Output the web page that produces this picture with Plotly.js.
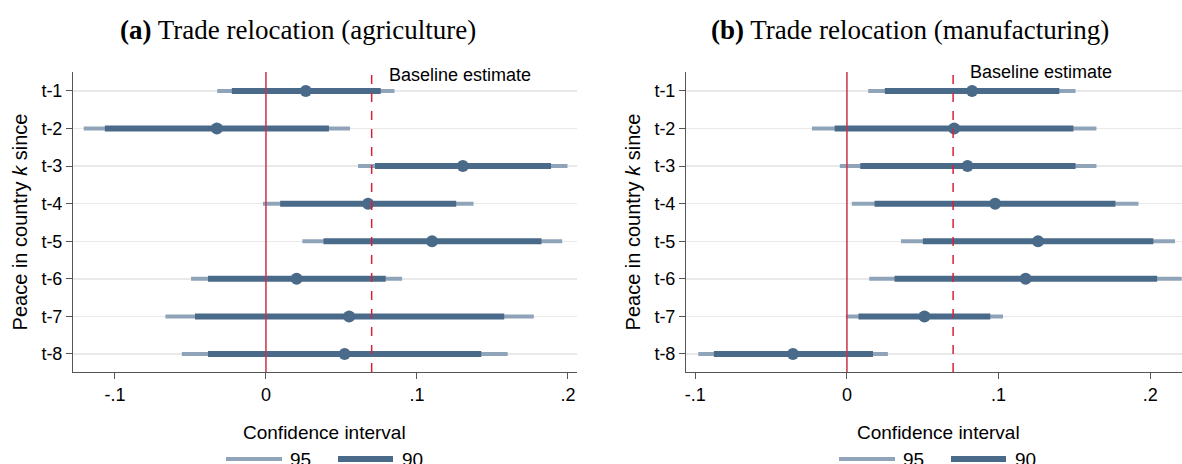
<!DOCTYPE html>
<html><head><meta charset="utf-8">
<script src="https://cdn.plot.ly/plotly-3.0.1.min.js"></script>
<style>html,body{margin:0;padding:0;background:#fff}#chart{width:1182px;height:464px}</style>
</head><body><div id="chart"></div>
<script>
// ---- data ----
const categories = ['t-1','t-2','t-3','t-4','t-5','t-6','t-7','t-8'];
const xTickVals = [-0.1, 0, 0.1, 0.2];
const xTickText = ['-.1', '0', '.1', '.2'];
const baseline = 0.07;
// (a) agriculture
const agEst  = [0.0264, -0.0325, 0.1304, 0.0676, 0.1100, 0.0203, 0.0551, 0.0521];
const agLo90 = [-0.0226, -0.1067, 0.0722, 0.0094, 0.0381, -0.0384, -0.0470, -0.0384];
const agHi90 = [0.0760, 0.0417, 0.1888, 0.1260, 0.1825, 0.0793, 0.1578, 0.1426];
const agLo95 = [-0.0323, -0.1207, 0.0610, -0.0020, 0.0241, -0.0496, -0.0666, -0.0557];
const agHi95 = [0.0851, 0.0557, 0.1997, 0.1375, 0.1962, 0.0902, 0.1774, 0.1601];
// (b) manufacturing
const mfEst  = [0.0825, 0.0707, 0.0795, 0.0977, 0.1260, 0.1178, 0.0511, -0.0356];
const mfLo90 = [0.0250, -0.0081, 0.0088, 0.0182, 0.0501, 0.0314, 0.0076, -0.0877];
const mfHi90 = [0.1400, 0.1493, 0.1507, 0.1770, 0.2020, 0.2045, 0.0945, 0.0172];
const mfLo95 = [0.0140, -0.0231, -0.0047, 0.0032, 0.0356, 0.0147, -0.0007, -0.0980];
const mfHi95 = [0.1507, 0.1645, 0.1645, 0.1922, 0.2163, 0.2207, 0.1029, 0.0270];

const C95 = '#8fa4b9', C90 = '#4a6a89', CRED = '#c8324a', CDASH = '#d8203a';
const W = 1182, H = 464;

function segs(lo, hi){
  const x=[], y=[];
  lo.forEach((v,i)=>{ x.push(v, hi[i], null); y.push(categories[i], categories[i], null); });
  return {x, y};
}
function panel(est, lo90, hi90, lo95, hi95, xa, ya){
  const s95 = segs(lo95, hi95), s90 = segs(lo90, hi90);
  return [
    {type:'scatter', mode:'lines', x:s95.x, y:s95.y, xaxis:xa, yaxis:ya, line:{color:C95, width:4}, hoverinfo:'skip', showlegend:false, connectgaps:false},
    {type:'scatter', mode:'lines', x:s90.x, y:s90.y, xaxis:xa, yaxis:ya, line:{color:C90, width:6}, hoverinfo:'skip', showlegend:false, connectgaps:false},
    {type:'scatter', mode:'markers', x:est, y:categories, xaxis:xa, yaxis:ya, marker:{color:C90, size:12}, showlegend:false}
  ];
}
const data = [
  ...panel(agEst, agLo90, agHi90, agLo95, agHi95, 'x', 'y'),
  ...panel(mfEst, mfLo90, mfHi90, mfLo95, mfHi95, 'x2', 'y2')
];

const font = {family:'Liberation Sans, Arial, sans-serif', size:18, color:'#000'};
const yTop = 1 - 72/H, yBot = 1 - 372/H;
function xaxis(dom, range){
  return {domain:dom, range:range, tickvals:xTickVals, ticktext:xTickText, showgrid:false, zeroline:false,
    showline:true, linecolor:'#555', linewidth:1, ticks:'outside', ticklen:6, tickcolor:'#555',
    tickfont:font, fixedrange:true};
}
function yaxis(anchor){
  return {domain:[yBot, yTop], type:'category', categoryarray:categories, range:[7.48, -0.505],
    showgrid:true, gridcolor:'#e9e9e9', gridwidth:1.5, zeroline:false, showline:true, linecolor:'#555', linewidth:1,
    ticks:'outside', ticklen:6, tickcolor:'#555', tickfont:font, anchor:anchor,
    title:{text:'Peace in country <i>k</i> since', font:{family:font.family, size:20, color:'#000'}, standoff:8}};
}
const xa1 = xaxis([73/W, 577/W], [-0.1278, 0.2060]); xa1.anchor='y';
const xa2 = xaxis([686/W, 1], [-0.1061, 0.2209]); xa2.anchor='y2';

function vline(xref, yref, x, color, dash, width){
  return {type:'line', xref:xref, yref:yref+' domain', x0:x, x1:x, y0:0, y1:1, line:{color:color, width:width, dash:dash}, layer:'above'};
}
function legendShapes(x95a, x95b, x90a, x90b){
  const y = 1 - 459/H;
  return [
    {type:'line', xref:'paper', yref:'paper', x0:x95a/W, x1:x95b/W, y0:y, y1:y, line:{color:C95, width:4}},
    {type:'line', xref:'paper', yref:'paper', x0:x90a/W, x1:x90b/W, y0:y, y1:y, line:{color:C90, width:6}}
  ];
}
const shapes = [
  vline('x','y',0,CRED,'solid',1.5), vline('x','y',baseline,CDASH,'dash',1.5),
  vline('x2','y2',0,CRED,'solid',1.5), vline('x2','y2',baseline,CDASH,'dash',1.5),
  ...legendShapes(226,282,338,393), ...legendShapes(839,895,951,1006)
];
const ann = (o)=>Object.assign({showarrow:false, xref:'paper', yref:'paper', xanchor:'center', yanchor:'middle', font:font}, o);
const titleFont = {family:'Liberation Serif, serif', size:27, color:'#000'};
const legFont = {family:font.family, size:19, color:'#000'};
const annotations = [
  ann({x:298/W, y:1-30/H, text:'<b>(a)</b> Trade relocation (agriculture)', font:titleFont}),
  ann({x:910/W, y:1-30/H, text:'<b>(b)</b> Trade relocation (manufacturing)', font:titleFont}),
  ann({x:baseline, xref:'x', y:1-75/H, xanchor:'left', xshift:15, text:'Baseline estimate', font:{family:font.family, size:18, color:'#000'}}),
  ann({x:baseline, xref:'x2', y:1-72/H, xanchor:'left', xshift:15, text:'Baseline estimate', font:{family:font.family, size:18, color:'#000'}}),
  ann({x:324/W, y:1-432/H, text:'Confidence interval', font:legFont}),
  ann({x:938/W, y:1-432/H, text:'Confidence interval', font:legFont}),
  ann({x:288/W, y:1-459/H, xanchor:'left', text:'95', font:legFont}),
  ann({x:400/W, y:1-459/H, xanchor:'left', text:'90', font:legFont}),
  ann({x:901/W, y:1-459/H, xanchor:'left', text:'95', font:legFont}),
  ann({x:1013/W, y:1-459/H, xanchor:'left', text:'90', font:legFont})
];
const layout = {
  width:W, height:H, margin:{l:0, r:0, t:0, b:0}, paper_bgcolor:'#fff', plot_bgcolor:'#fff',
  showlegend:false, font:font,
  xaxis:xa1, yaxis:yaxis('x'), xaxis2:xa2, yaxis2:yaxis('x2'),
  shapes:shapes, annotations:annotations
};
Plotly.newPlot('chart', data, layout, {displayModeBar:false, staticPlot:true});
</script></body></html>
